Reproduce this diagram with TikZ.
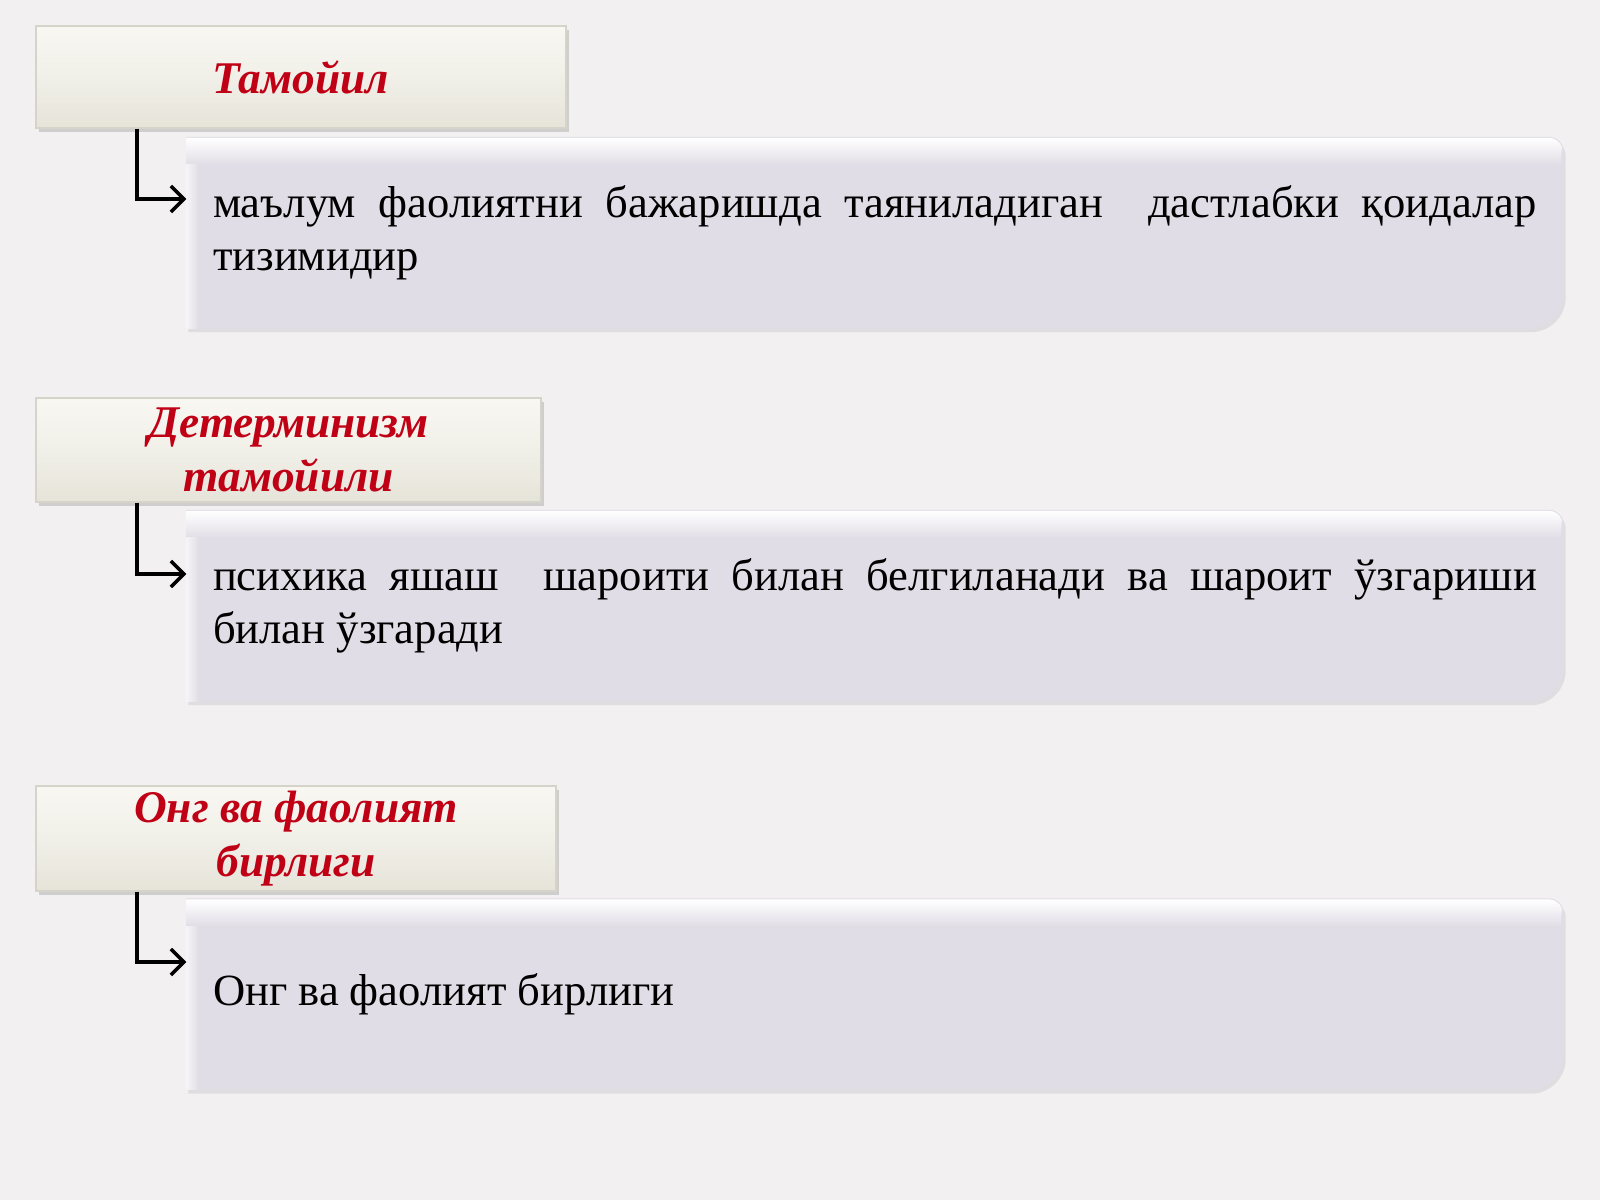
\documentclass[tikz,border=0pt]{standalone}
\usepackage{fontspec}
\setmainfont{Liberation Serif}
\usepackage{xcolor}
\usetikzlibrary{arrows.meta,shadows,backgrounds}

\definecolor{pagebg}{RGB}{242,240,240}
\definecolor{titletop}{RGB}{248,247,242}
\definecolor{titlebot}{RGB}{230,228,217}
\definecolor{titleline}{RGB}{214,212,200}
\definecolor{boxfill}{RGB}{225,221,230}
\definecolor{boxshade}{RGB}{190,188,196}
\definecolor{titlered}{RGB}{192,0,20}

\begin{document}
\begin{tikzpicture}[
    titlebox/.style={rectangle,draw=titleline,line width=0.4pt,
        top color=titletop,bottom color=titlebot,middle color=titletop!60!titlebot,
        drop shadow={shadow xshift=0.03cm,shadow yshift=-0.04cm,opacity=0.3},
        text=titlered,font=\fontsize{12.9}{15.4}\selectfont\bfseries\itshape,
        align=center,inner sep=0pt},
    textbox/.style={rectangle,minimum width=13.76cm,minimum height=1.9cm,
        text width=13.24cm,inner xsep=0.26cm,inner ysep=0pt,align=justify,
        font=\fontsize{12.7}{15}\selectfont},
    link/.style={line width=1.2pt,-{Straight Barb[length=0.13cm,width=0.26cm,line width=1pt]}}
]
    \useasboundingbox (0,0) rectangle (16,12);

    % headings
    \node[titlebox,minimum width=5.30cm,minimum height=1.02cm] (t1) at (3.01,11.23) {Тамойил};
    \node[titlebox,minimum width=5.05cm,minimum height=1.04cm] (t2) at (2.885,7.50) {Детерминизм\\тамойили};
    \node[titlebox,minimum width=5.20cm,minimum height=1.05cm] (t3) at (2.96,3.615) {Онг ва фаолият\\бирлиги};

    % definitions
    \node[textbox] (d1) at (8.75,9.675) {маълум фаолиятни бажаришда таяниладиган\ \ дастлабки қоидалар тизимидир};
    \node[textbox] (d2) at (8.75,5.945) {психика яшаш\ \ шароити билан белгиланади ва шароит ўзгариши билан ўзгаради};
    \node[textbox] (d3) at (8.75,2.06) {Онг ва фаолият бирлиги};

    \begin{scope}[on background layer]
        \fill[pagebg] (0,0) rectangle (16,12);
        \foreach \n in {d1,d2,d3} {
            \fill[boxshade,opacity=0.35] ([shift={(0.02,-0.04)}]\n.south west) -- ([shift={(0.02,-0.04)}]\n.north west)
                -- ([shift={(-0.13,-0.04)}]\n.north east) arc[start angle=90,end angle=0,radius=0.15cm]
                -- ([shift={(0.02,0.31)}]\n.south east) arc[start angle=0,end angle=-90,radius=0.35cm] -- cycle;
            \fill[boxfill] (\n.south west) -- (\n.north west)
                -- ([xshift=-0.15cm]\n.north east) arc[start angle=90,end angle=0,radius=0.15cm]
                -- ([yshift=0.35cm]\n.south east) arc[start angle=0,end angle=-90,radius=0.35cm] -- cycle;
            \shade[top color=white,bottom color=boxfill] ([yshift=-0.01cm]\n.north west)
                -- ([xshift=-0.15cm,yshift=-0.01cm]\n.north east) arc[start angle=90,end angle=20,radius=0.14cm]
                -- ([xshift=-0.03cm,yshift=-0.28cm]\n.north east)
                -- ([yshift=-0.28cm]\n.north west) -- cycle;
            \shade[left color=white!70!boxfill,right color=boxfill] (\n.south west) rectangle ([xshift=0.12cm,yshift=-0.28cm]\n.north west);
        }
    \end{scope}

    % arrows
    \coordinate (k1) at (1.37,10.01);
    \coordinate (k2) at (1.37,6.26);
    \coordinate (k3) at (1.37,2.38);
    \draw[link] (k1 |- t1.south) |- (k1 -| d1.west);
    \draw[link] (k2 |- t2.south) |- (k2 -| d2.west);
    \draw[link] (k3 |- t3.south) |- (k3 -| d3.west);
\end{tikzpicture}
\end{document}
